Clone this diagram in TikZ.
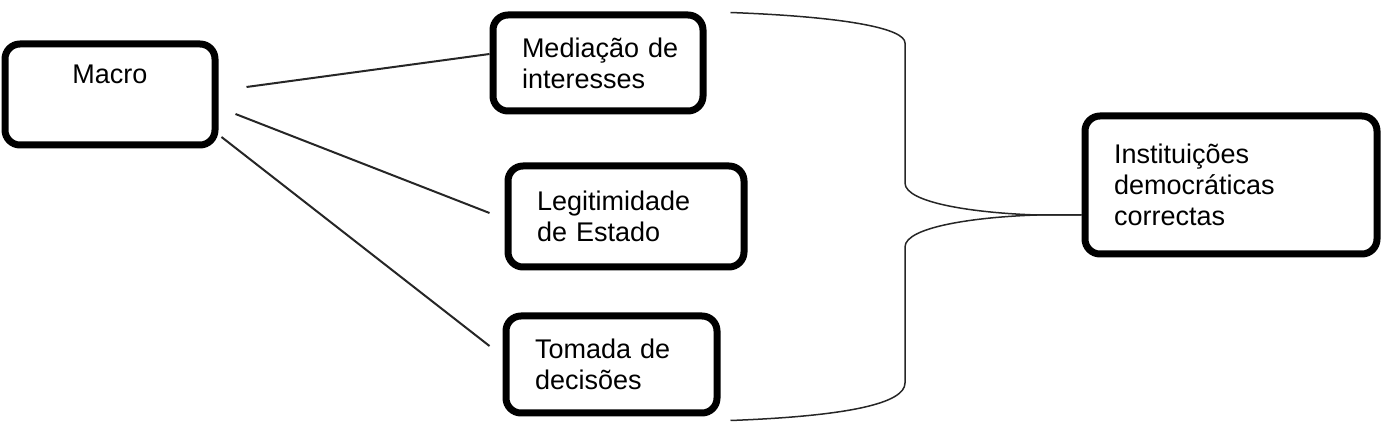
\documentclass[tikz,border=0pt]{standalone}
\usepackage{fontspec}
\setmainfont{Liberation Sans}
\usepackage{tikz}
\usetikzlibrary{positioning}

\begin{document}
\begin{tikzpicture}[
	x=1pt, y=1pt,
	font=\fontsize{27}{31}\selectfont,
	caixa/.style={rectangle, rounded corners=15pt, draw=black, line width=7pt, inner xsep=29pt, align=left},
	liga/.style={line width=2pt, black!85},
	chave/.style={line width=1.5pt, black!85},
]
\useasboundingbox (0,0) rectangle (1384,439);
\node[caixa, minimum width=210pt, minimum height=101pt, align=center, text depth=40pt] (mac) at (110,344.5) {Macro};
\node[caixa, text width=152pt, minimum height=96pt] (med) at (598,376) {Mediação~de\\interesses};
\node[caixa, text width=178pt, minimum height=101pt] (leg) at (626,222.5) {Legitimidade\\de Estado};
\node[caixa, text width=153pt, minimum height=97pt] (tom) at (611.5,74.5) {Tomada~de\\decisões};
\node[caixa, text width=234pt, minimum height=138pt] (ins) at (1231,254) {Instituições\\democráticas\\correctas};
\draw[liga] ([xshift=28pt,yshift=7.5pt]mac.east) -- ([yshift=9pt]med.west);
\draw[liga] ([xshift=17pt,yshift=-19.5pt]mac.east) -- ([xshift=-15pt,yshift=3.5pt]leg.west);
\draw[liga] ([xshift=3pt,yshift=-42.5pt]mac.east) -- ([xshift=-13pt,yshift=18.5pt]tom.west);
% chaveta
\coordinate (ct) at ([xshift=24pt,yshift=-1pt]med.north east);
\coordinate (cb) at ([xshift=10pt,yshift=-4pt]tom.south east);
\coordinate (cp) at ([yshift=-30pt]ins.west);
\draw[chave] (ct) .. controls (850,422) and (905,410) .. (905,396) -- (905,256) .. controls (905,236) and (975,226) .. (1037,224) -- (cp);
\draw[chave] (cp) -- (1037,224) .. controls (975,222) and (905,212) .. (905,192) -- (905,56) .. controls (905,36) and (850,23) .. (cb);
\end{tikzpicture}
\end{document}
